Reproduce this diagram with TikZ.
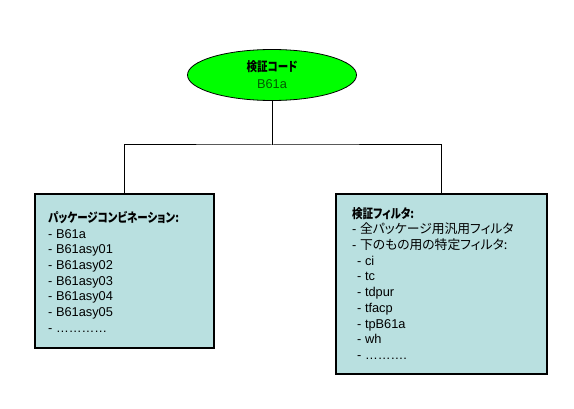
\documentclass[tikz,border=0pt]{standalone}
\usepackage{fontspec}
\setmainfont{Liberation Sans}
\newfontfamily\jp[RawFeature=+palt, BoldFeatures={FakeStretch=0.82}]{Noto Sans CJK JP}
\usetikzlibrary{shapes.geometric}
\definecolor{boxfill}{HTML}{B9E0E0}
\definecolor{ovalfill}{HTML}{00FF00}
\definecolor{codegreen}{HTML}{005A00}
\tikzset{
  listbox/.style={draw, line width=1.6pt, fill=boxfill, inner sep=0pt},
  listtext/.style={anchor=north west, align=left, inner sep=0pt,
    font=\fontsize{12.8}{15.7}\selectfont},
  link/.style={line width=1pt}
}
\begin{document}
\begin{tikzpicture}[x=1pt,y=-1pt]
\useasboundingbox (0,0) rectangle (574,409);
\node[ellipse, draw, line width=0.8pt, fill=ovalfill, minimum width=169pt, minimum height=51pt, inner sep=0pt, align=center, font=\fontsize{12.8}{17}\selectfont](code) at (272,75)
  {{\jp\bfseries 検証コード}\\ \textcolor{codegreen}{B61a}};
\node[listbox, minimum width=179pt, minimum height=154pt](pkg) at (124.5,271){};
\node[listbox, minimum width=211pt, minimum height=180pt](filt) at (441.5,284){};
\coordinate (fork) at (272,145);
%
\draw[link] (code.south)--(fork);
\draw[link] (pkg.north) |- (fork) -| (filt.north);
%
\node[listtext](pkgtext) at (48,211){{\jp\bfseries パッケージコンビネーション:}\\
- B61a\\ - B61asy01\\ - B61asy02\\ - B61asy03\\ - B61asy04\\ - B61asy05\\ - …………};
\node[listtext](filttext) at (352,207){{\jp\bfseries 検証フィルタ:}\\
- {\jp 全パッケージ用汎用フィルタ}\\ - {\jp 下のもの用の特定フィルタ:}\\
\hspace{5pt}- ci\\ \hspace{5pt}- tc\\ \hspace{5pt}- tdpur\\ \hspace{5pt}- tfacp\\
\hspace{5pt}- tpB61a\\ \hspace{5pt}- wh\\ \hspace{5pt}- ……….};
\end{tikzpicture}
\end{document}
